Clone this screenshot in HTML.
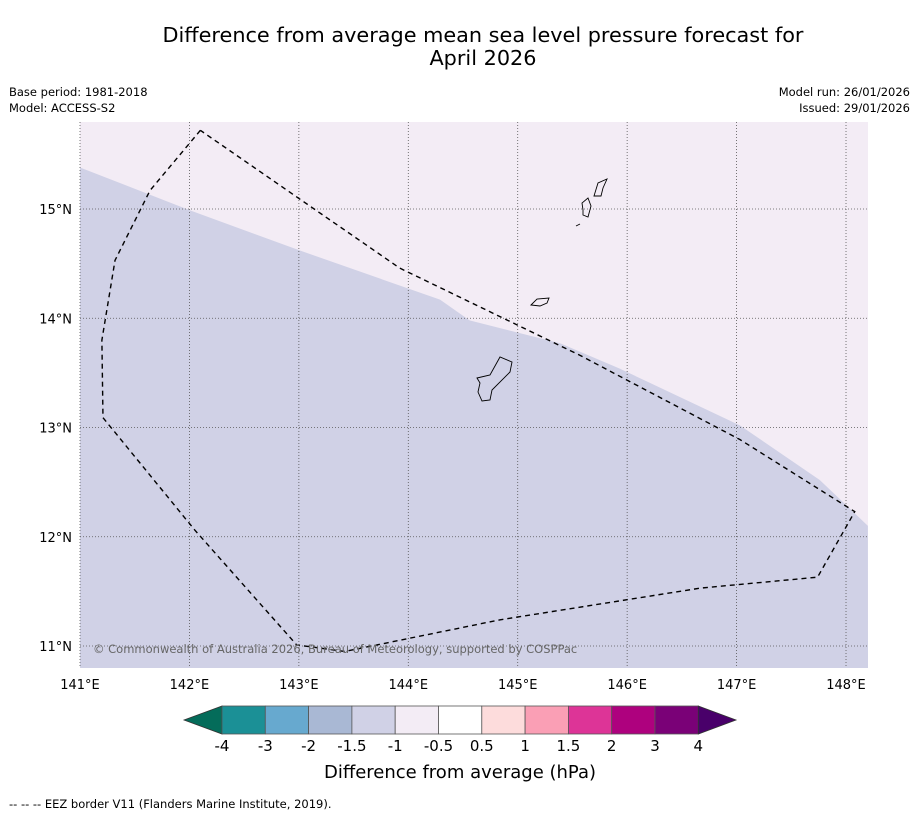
<!DOCTYPE html>
<html><head><meta charset="utf-8"><style>
body{margin:0;background:#fff;font-family:"Liberation Sans","DejaVu Sans",sans-serif}
</style></head><body>
<svg id="s" width="919" height="816" xmlns="http://www.w3.org/2000/svg" font-family="DejaVu Sans, Liberation Sans, sans-serif">
<text x="483" y="42" font-size="20.8" text-anchor="middle">Difference from average mean sea level pressure forecast for</text>
<text x="483" y="65" font-size="20.8" text-anchor="middle">April 2026</text>
<text x="9" y="96" font-size="11.5">Base period: 1981-2018</text>
<text x="9" y="112" font-size="11.5">Model: ACCESS-S2</text>
<text x="910" y="96" font-size="11.5" text-anchor="end">Model run: 26/01/2026</text>
<text x="910" y="112" font-size="11.5" text-anchor="end">Issued: 29/01/2026</text>
<g id="map"></g>
<g id="cb"></g>
<text x="460" y="778" font-size="18" text-anchor="middle">Difference from average (hPa)</text>
<text x="9" y="808" font-size="11.5">--  --  -- EEZ border V11 (Flanders Marine Institute, 2019).</text>
</svg>
<script>
const lonTicks=[141,142,143,144,145,146,147,148];
const latTicks=[11,12,13,14,15];
const boundaryLon=[141,142.0,143.01,144.29,144.56,145.39,145.93,147.03,147.76,148.2];
const boundaryLat=[15.38,14.99,14.62,14.17,13.98,13.77,13.54,13.02,12.52,12.10];
const eezLon=[142.1,141.64,141.32,141.2,141.21,142.05,142.98,143.42,144.84,146.67,147.74,148.08,147.03,145.57,143.92,142.1];
const eezLat=[15.72,15.17,14.53,13.8,13.09,12.06,11.01,10.95,11.24,11.53,11.63,12.23,12.89,13.66,14.46,15.72];
const cbLabels=["-4","-3","-2","-1.5","-1","-0.5","0.5","1","1.5","2","3","4"];
const cbColors=["#1b9096","#67a9cf","#a9b8d4","#d0d1e6","#f3ecf5","#ffffff","#fddcdc","#fa9fb5","#dd3497","#ae017e","#7a0177"];
const NS="http://www.w3.org/2000/svg";
const X0=80,X1=868,Y0=122,Y1=668;
const x=l=>80+(l-141)*109.43, y=l=>209-(l-15)*109.25;
function mk(t,a,p){const e=document.createElementNS(NS,t);for(const k in a)e.setAttribute(k,a[k]);p.appendChild(e);return e;}
const m=document.getElementById('map');
let r=mk('rect',{x:X0,y:Y0,width:X1-X0,height:Y1-Y0,fill:'#f3ecf5'},m);


let d='M'+boundaryLon.map((l,i)=>x(l)+','+y(boundaryLat[i])).join(' L')+` L${X1},${Y1} L${X0},${Y1} Z`;
let p=mk('path',{d:d,fill:'#d0d1e6'},m);


lonTicks.forEach(l=>{let g=mk('line',{x1:x(l),x2:x(l),y1:Y0,y2:Y1,stroke:'#555','stroke-width':0.8,'stroke-dasharray':'1,2'},m);


let t=mk('text',{x:x(l),y:689,'font-size':13,'text-anchor':'middle'},document.getElementById('s'));t.textContent=l+'°E';

});
latTicks.forEach(l=>{let g=mk('line',{x1:X0,x2:X1,y1:y(l),y2:y(l),stroke:'#555','stroke-width':0.8,'stroke-dasharray':'1,2'},m);


let t=mk('text',{x:72,y:y(l)+5,'font-size':13,'text-anchor':'end'},document.getElementById('s'));t.textContent=l+'°N';

});
let isl=mk('path',{d:'M477,378 L490,375 L500,357 L512,362 L510,372 L492,390 L490,400 L482,401 L478,392 L480,383 Z M531,305 L537,299 L549,298 L547,303 L540,306 Z M583,210 L582,203 L588,198 L591,206 L588,217 L583,215 Z M594,196 L598,183 L607,179 L603,188 L601,196 Z M576,226 L580,224',fill:'none',stroke:'#000','stroke-width':0.9},m);


let e=mk('path',{d:'M'+eezLon.map((l,i)=>x(l)+','+y(eezLat[i])).join(' L'),fill:'none',stroke:'#000','stroke-width':1.4,'stroke-dasharray':'5,4'},m);


let c=mk('text',{x:93,y:653,'font-size':11.5,fill:'#666'},m);c.textContent='© Commonwealth of Australia 2026, Bureau of Meteorology, supported by COSPPac';


const cb=document.getElementById('cb');const cx0=222,cw=43.3,cy=706,ch=28;
let lt=mk('path',{d:`M${cx0},${cy} L184,${cy+ch/2} L${cx0},${cy+ch} Z`,fill:'#046c5a',stroke:'#333','stroke-width':0.8},cb);


cbColors.forEach((col,i)=>{let b=mk('rect',{x:cx0+i*cw,y:cy,width:cw,height:ch,fill:col,stroke:'#555','stroke-width':0.8},cb);

});
const ce=cx0+cbColors.length*cw;
let rt=mk('path',{d:`M${ce},${cy} L736,${cy+ch/2} L${ce},${cy+ch} Z`,fill:'#49006a',stroke:'#333','stroke-width':0.8},cb);


cbLabels.forEach((s,i)=>{let t=mk('text',{x:cx0+i*cw,y:751,'font-size':15,'text-anchor':'middle'},cb);t.textContent=s;

});
</script>
</body></html>
